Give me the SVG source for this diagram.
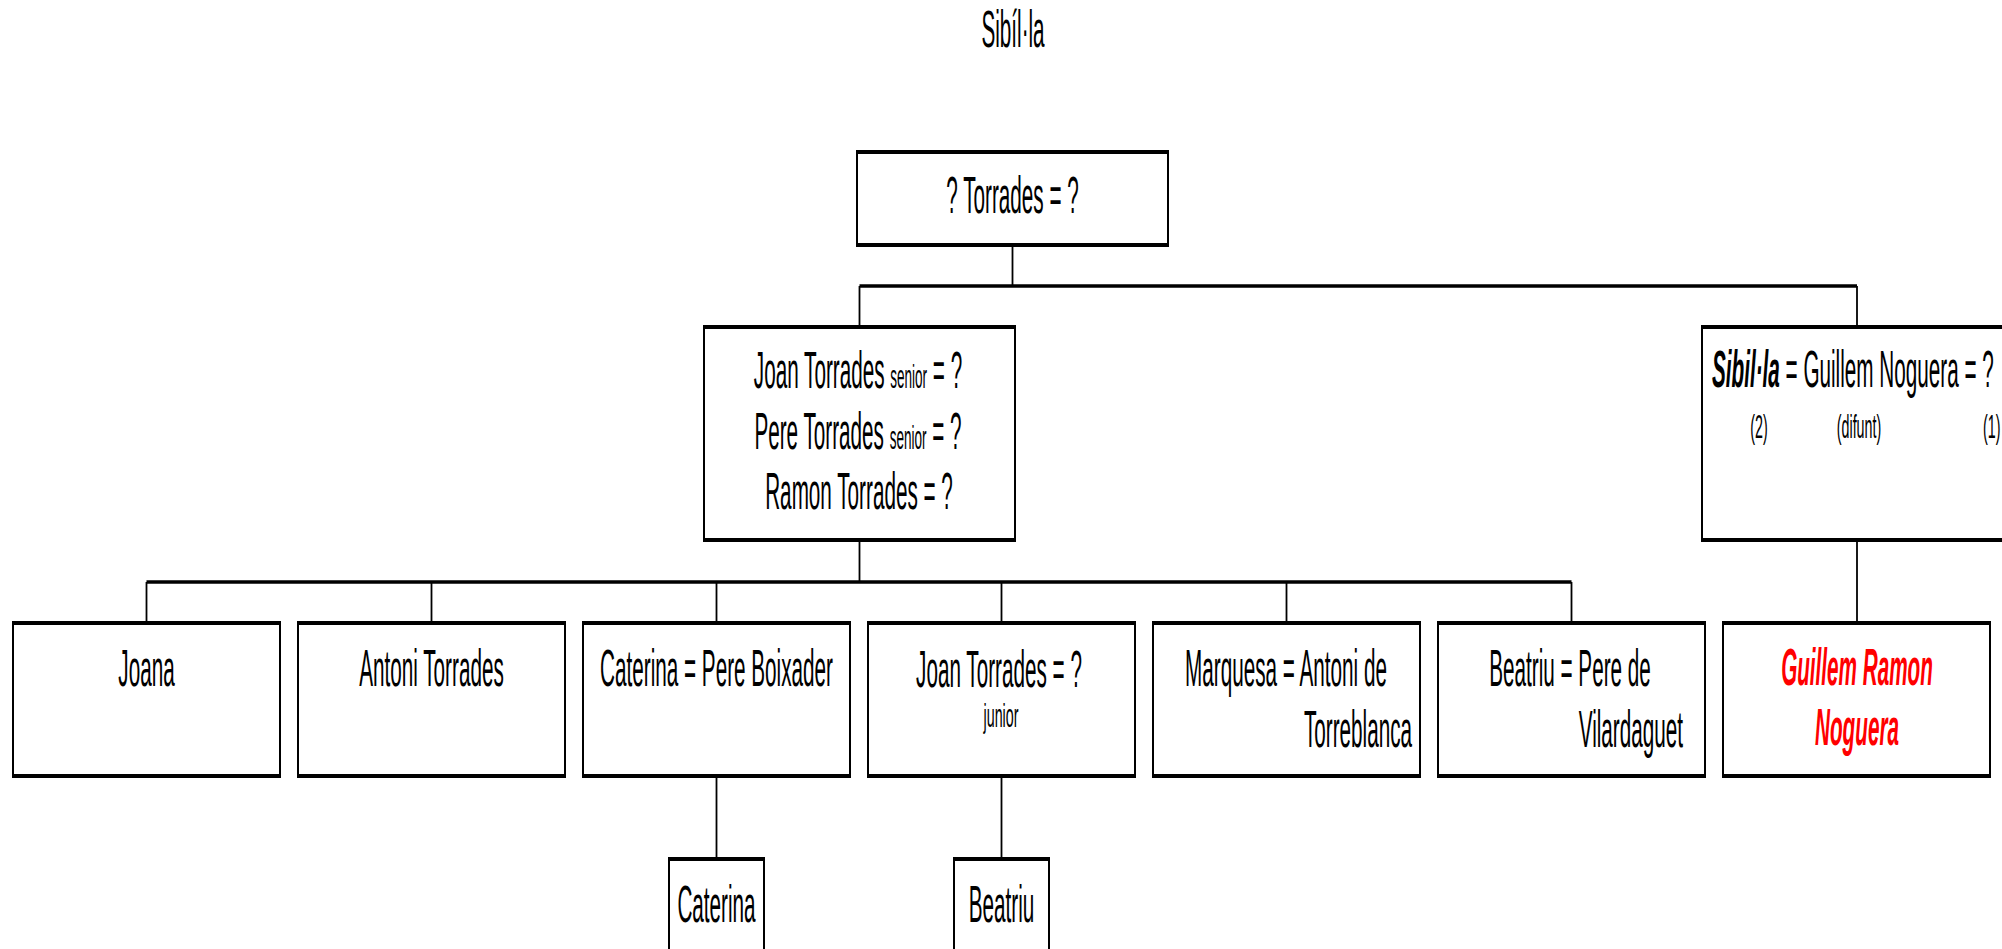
<svg xmlns="http://www.w3.org/2000/svg" width="2002" height="949" viewBox="0 0 2002 949">
<style>
.box{fill:#fff;stroke:#000;stroke-width:2}
.edge{stroke:#000;stroke-width:4}
.bar{stroke:#000;stroke-width:3.5;fill:none}
.vl{stroke:#000;stroke-width:1.8;fill:none}
text{font-family:"Liberation Sans",Arial,sans-serif;font-size:52px;fill:#000}
.m{text-anchor:middle}
.e{text-anchor:end}
.sm{font-size:34px}
.bi{font-weight:bold;font-style:italic}
.red{fill:#f00;font-weight:bold;font-style:italic}
</style>
<rect width="2002" height="949" fill="#fff"/>
<text class="m" transform="translate(1013,47) scale(0.398,1)">Sibíl·la</text>
<g id="connectors">
<line class="vl" x1="1012.5" y1="246" x2="1012.5" y2="286"/>
<line class="bar" x1="859.5" y1="286" x2="1857" y2="286"/>
<line class="vl" x1="859.5" y1="286" x2="859.5" y2="326"/>
<line class="vl" x1="1857" y1="286" x2="1857" y2="326"/>
<line class="vl" x1="859.5" y1="541" x2="859.5" y2="582"/>
<line class="bar" x1="146.5" y1="582" x2="1571.5" y2="582"/>
<line class="vl" x1="146.5" y1="582" x2="146.5" y2="622"/>
<line class="vl" x1="431.5" y1="582" x2="431.5" y2="622"/>
<line class="vl" x1="716.5" y1="582" x2="716.5" y2="622"/>
<line class="vl" x1="1001.5" y1="582" x2="1001.5" y2="622"/>
<line class="vl" x1="1286.5" y1="582" x2="1286.5" y2="622"/>
<line class="vl" x1="1571.5" y1="582" x2="1571.5" y2="622"/>
<line class="vl" x1="1857" y1="541" x2="1857" y2="622"/>
<line class="vl" x1="716.5" y1="777" x2="716.5" y2="858"/>
<line class="vl" x1="1001.5" y1="777" x2="1001.5" y2="858"/>
</g>
<g id="n_torrades">
<rect class="box" x="857" y="151" width="311" height="95"/>
<line class="edge" x1="856" y1="152" x2="1169" y2="152"/><line class="edge" x1="856" y1="245" x2="1169" y2="245"/>
<text class="m" transform="translate(1012.5,213) scale(0.398,1)">? Torrades = ?</text>
</g>
<g id="n_germans">
<rect class="box" x="704" y="326" width="311" height="215"/>
<line class="edge" x1="703" y1="327" x2="1016" y2="327"/><line class="edge" x1="703" y1="540" x2="1016" y2="540"/>
<text class="m" transform="translate(858,388) scale(0.398,1)">Joan Torrades <tspan class="sm">senior</tspan> = ?</text>
<text class="m" transform="translate(858,449) scale(0.398,1)">Pere Torrades <tspan class="sm">senior</tspan> = ?</text>
<text class="m" transform="translate(859,509) scale(0.398,1)">Ramon Torrades = ?</text>
</g>
<g id="n_sibilla">
<rect class="box" x="1702" y="326" width="310" height="215"/>
<line class="edge" x1="1701" y1="327" x2="2012" y2="327"/><line class="edge" x1="1701" y1="540" x2="2012" y2="540"/>
<text transform="translate(1712,387) scale(0.398,1)"><tspan class="bi">Sibil·la</tspan> = Guillem Noguera = ?</text>
<text class="m sm" transform="translate(1759,438) scale(0.42,1)">(2)</text>
<text class="m sm" transform="translate(1859,438) scale(0.42,1)">(difunt)</text>
<text class="sm" transform="translate(1983,438) scale(0.42,1)">(1)</text>
</g>
<g id="n_joana">
<rect class="box" x="13" y="622" width="267" height="155"/>
<line class="edge" x1="12" y1="623" x2="281" y2="623"/><line class="edge" x1="12" y1="776" x2="281" y2="776"/>
<text class="m" transform="translate(146.5,686) scale(0.398,1)">Joana</text>
</g>
<g id="n_antoni">
<rect class="box" x="298" y="622" width="267" height="155"/>
<line class="edge" x1="297" y1="623" x2="566" y2="623"/><line class="edge" x1="297" y1="776" x2="566" y2="776"/>
<text class="m" transform="translate(431.5,686) scale(0.398,1)">Antoni Torrades</text>
</g>
<g id="n_caterina">
<rect class="box" x="583" y="622" width="267" height="155"/>
<line class="edge" x1="582" y1="623" x2="851" y2="623"/><line class="edge" x1="582" y1="776" x2="851" y2="776"/>
<text class="m" transform="translate(716.5,686) scale(0.398,1)">Caterina = Pere Boixader</text>
</g>
<g id="n_joanjr">
<rect class="box" x="868" y="622" width="267" height="155"/>
<line class="edge" x1="867" y1="623" x2="1136" y2="623"/><line class="edge" x1="867" y1="776" x2="1136" y2="776"/>
<text class="m" transform="translate(999,687) scale(0.398,1)">Joan Torrades = ?</text>
<text class="m sm" transform="translate(1001,727) scale(0.42,1)">junior</text>
</g>
<g id="n_marquesa">
<rect class="box" x="1153" y="622" width="267" height="155"/>
<line class="edge" x1="1152" y1="623" x2="1421" y2="623"/><line class="edge" x1="1152" y1="776" x2="1421" y2="776"/>
<text class="m" transform="translate(1286,686) scale(0.398,1)">Marquesa = Antoni de</text>
<text class="e" transform="translate(1412,747) scale(0.398,1)">Torreblanca</text>
</g>
<g id="n_beatriu">
<rect class="box" x="1438" y="622" width="267" height="155"/>
<line class="edge" x1="1437" y1="623" x2="1706" y2="623"/><line class="edge" x1="1437" y1="776" x2="1706" y2="776"/>
<text class="m" transform="translate(1570,686) scale(0.398,1)">Beatriu = Pere de</text>
<text class="e" transform="translate(1683,747) scale(0.398,1)">Vilardaguet</text>
</g>
<g id="n_guillemramon">
<rect class="box" x="1723" y="622" width="267" height="155"/>
<line class="edge" x1="1722" y1="623" x2="1991" y2="623"/><line class="edge" x1="1722" y1="776" x2="1991" y2="776"/>
<text class="m red" transform="translate(1857,685) scale(0.398,1)">Guillem Ramon</text>
<text class="m red" transform="translate(1857,745) scale(0.398,1)">Noguera</text>
</g>
<g id="n_caterina2">
<rect class="box" x="669" y="858" width="95" height="110"/>
<line class="edge" x1="668" y1="859" x2="765" y2="859"/>
<text class="m" transform="translate(716.5,922) scale(0.398,1)">Caterina</text>
</g>
<g id="n_beatriu2">
<rect class="box" x="954" y="858" width="95" height="110"/>
<line class="edge" x1="953" y1="859" x2="1050" y2="859"/>
<text class="m" transform="translate(1001.5,922) scale(0.398,1)">Beatriu</text>
</g>
</svg>
